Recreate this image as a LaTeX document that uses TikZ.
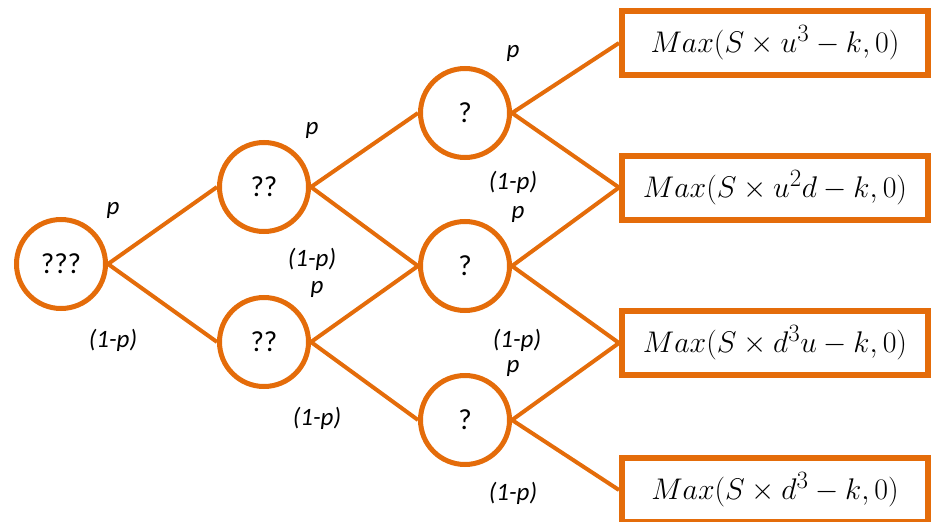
\documentclass[tikz,border=0pt]{standalone}
\usepackage{graphicx}
\usepackage[no-math]{fontspec}
\setmainfont{Carlito}
\definecolor{treeor}{HTML}{E46C0A}
\newcommand{\payofftext}[1]{\scalebox{1.2}{$#1$}}
\tikzset{
  state/.style={circle, draw=treeor, line width=5pt, minimum size=89pt, inner sep=0pt, fill=white, font=\fontsize{29}{33}\selectfont},
  payoff/.style={rectangle, draw=treeor, line width=6pt, minimum width=306pt, minimum height=64pt, inner sep=0pt, fill=white, font=\fontsize{24.88}{30}\selectfont},
  branch/.style={draw=treeor, line width=4pt},
  prob/.style={font=\fontsize{25}{29}\selectfont\itshape, inner sep=0pt}
}
\begin{document}
\begin{tikzpicture}[x=1pt, y=-1pt]
\useasboundingbox (0,0) rectangle (938,522);
\node[state] (n0) at (61,264) {???};
\node[state] (n1u) at (264,187) {??};
\node[state] (n1d) at (264,342) {??};
\node[state] (n2u) at (465,113) {?};
\node[state] (n2m) at (465,266) {?};
\node[state] (n2d) at (465,420) {?};
\node[payoff] (b1) at (775,43) {\payofftext{Max(S\times u^3-k,0)}};
\node[payoff] (b2) at (775,187.5) {\payofftext{Max(S\times u^2d-k,0)}};
\node[payoff] (b3) at (775,343) {\payofftext{Max(S\times d^3u-k,0)}};
\node[payoff] (b4) at (775,490) {\payofftext{Max(S\times d^3-k,0)}};
\draw[branch] (n0.east) -- (n1u.west);
\draw[branch] (n0.east) -- (n1d.west);
\draw[branch] (n1u.east) -- (n2u.west);
\draw[branch] (n1u.east) -- (n2m.west);
\draw[branch] (n1d.east) -- (n2m.west);
\draw[branch] (n1d.east) -- (n2d.west);
\draw[branch] (n2u.east) -- (b1.west);
\draw[branch] (n2u.east) -- (b2.west);
\draw[branch] (n2m.east) -- (b2.west);
\draw[branch] (n2m.east) -- (b3.west);
\draw[branch] (n2d.east) -- (b3.west);
\draw[branch] (n2d.east) -- (b4.west);
% probability labels
\node[prob] (l1) at (113,210) {p};
\node[prob] (l2) at (113,340) {(1-p)};
\node[prob] (l3) at (312,130) {p};
\node[prob] (l4) at (312,259) {(1-p)};
\node[prob] (l5) at (317,289) {p};
\node[prob] (l6) at (317,418) {(1-p)};
\node[prob] (l7) at (513,53) {p};
\node[prob] (l8) at (513,182) {(1-p)};
\node[prob] (l9) at (518,214) {p};
\node[prob] (l10) at (517,340) {(1-p)};
\node[prob] (l11) at (513,368) {p};
\node[prob] (l12) at (513,493) {(1-p)};
\end{tikzpicture}
\end{document}
